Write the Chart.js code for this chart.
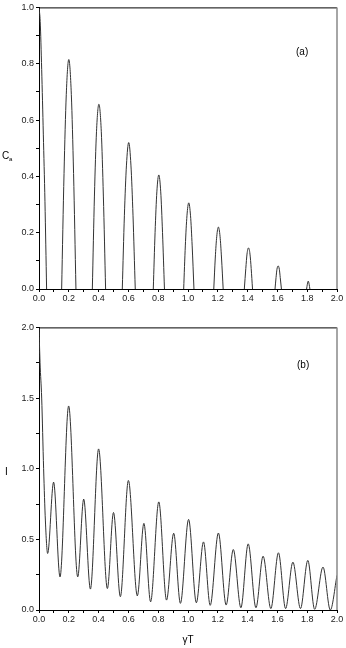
<!DOCTYPE html>
<html>
<head>
<meta charset="utf-8">
<script src="https://cdn.jsdelivr.net/npm/chart.js@4.4.1/dist/chart.umd.min.js"></script>
<style>
  body { margin: 0; background: #fff; }
  canvas { position: absolute; left: 0; }
  #chartA { top: 0; }
  #chartB { top: 320px; }
</style>
</head>
<body>
<canvas id="chartA" width="346" height="320"></canvas>
<canvas id="chartB" width="346" height="328"></canvas>
<script>
// tick labels
const xTickLabels = ['0.0', '0.2', '0.4', '0.6', '0.8', '1.0', '1.2', '1.4', '1.6', '1.8', '2.0'];
const caTickLabels = ['0.0', '0.2', '0.4', '0.6', '0.8', '1.0'];
const iTickLabels = ['0.0', '0.5', '1.0', '1.5', '2.0'];

// panel (a): C_a, arches separated by gaps (null)
const caX = [
  0, 0.008, 0.018, 0.029, 0.040, 0.051, 0.10,
  0.152, 0.168, 0.183, 0.200, 0.217, 0.232, 0.248, 0.30,
  0.358, 0.372, 0.386, 0.402, 0.418, 0.432, 0.447, 0.50,
  0.559, 0.573, 0.587, 0.602, 0.617, 0.631, 0.646, 0.70,
  0.767, 0.779, 0.791, 0.804, 0.817, 0.829, 0.842, 0.90,
  0.971, 0.982, 0.993, 1.005, 1.017, 1.028, 1.040, 1.10,
  1.173, 1.183, 1.193, 1.204, 1.215, 1.225, 1.236, 1.30,
  1.378, 1.388, 1.396, 1.406, 1.416, 1.424, 1.433, 1.50,
  1.584, 1.591, 1.597, 1.605, 1.613, 1.619, 1.627, 1.70,
  1.796, 1.801, 1.807, 1.813, 1.818
];
const caY = [
  1.0, 0.95, 0.78, 0.55, 0.31, 0, null,
  0, 0.41, 0.69, 0.815, 0.69, 0.41, 0, null,
  0, 0.33, 0.56, 0.656, 0.56, 0.33, 0, null,
  0, 0.26, 0.44, 0.52, 0.44, 0.26, 0, null,
  0, 0.20, 0.345, 0.405, 0.345, 0.20, 0, null,
  0, 0.153, 0.26, 0.306, 0.26, 0.153, 0, null,
  0, 0.11, 0.187, 0.22, 0.187, 0.11, 0, null,
  0, 0.073, 0.124, 0.146, 0.124, 0.073, 0, null,
  0, 0.041, 0.07, 0.082, 0.07, 0.041, 0, null,
  0, 0.017, 0.028, 0.017, 0
];

// panel (b): I, peaks and troughs
const iX = [
  0, 0.007, 0.018, 0.031, 0.043, 0.058, 0.098, 0.141, 0.199, 0.26,
  0.30, 0.345, 0.40, 0.459, 0.50, 0.546, 0.60, 0.66, 0.704, 0.749,
  0.804, 0.856, 0.904, 0.949, 1.004, 1.056, 1.104, 1.149, 1.204, 1.256,
  1.304, 1.355, 1.404, 1.456, 1.504, 1.556, 1.607, 1.655, 1.704, 1.755,
  1.804, 1.85, 1.906, 1.955, 2.0
];
const iY = [
  2.0, 1.75, 1.5, 1.0, 0.63, 0.40, 0.905, 0.234, 1.444, 0.234,
  0.785, 0.148, 1.14, 0.152, 0.69, 0.094, 0.917, 0.10, 0.613, 0.058,
  0.765, 0.07, 0.543, 0.047, 0.641, 0.051, 0.482, 0.033, 0.545, 0.035,
  0.428, 0.016, 0.468, 0.016, 0.381, 0.01, 0.405, 0.01, 0.339, 0.01,
  0.351, 0.005, 0.304, 0.0, 0.245
];

const tickFont = { family: 'Liberation Sans', size: 9 };

const frame = {
  id: 'frame',
  afterDraw(chart, args, opts) {
    const { ctx, chartArea: a } = chart;
    ctx.save();
    ctx.strokeStyle = '#000';
    ctx.lineWidth = 1;
    ctx.beginPath();
    ctx.moveTo(a.left, a.top + 0.5);
    ctx.lineTo(a.right, a.top + 0.5);
    ctx.stroke();
    ctx.strokeStyle = '#888';
    ctx.lineWidth = 1.5;
    ctx.beginPath();
    ctx.moveTo(a.right, a.top);
    ctx.lineTo(a.right, a.bottom);
    ctx.stroke();
    ctx.fillStyle = '#000';
    for (const t of opts.texts) {
      ctx.font = t.font;
      ctx.fillText(t.text, t.x, t.y);
    }
    ctx.restore();
  }
};

function pickLabel(list) {
  return (v) => {
    const s = Number(v).toFixed(1);
    return list.includes(s) && Math.abs(Number(s) - v) < 1e-6 ? s : '';
  };
}

function makeChart(id, xs, ys, yMax, yStep, yLabels, texts, xTitle, xHeight) {
  return new Chart(document.getElementById(id), {
    type: 'line',
    data: {
      datasets: [{
        data: xs.map((x, i) => ({ x: x, y: ys[i] })),
        borderColor: '#333',
        borderWidth: 1,
        pointRadius: 0,
        cubicInterpolationMode: 'monotone',
        spanGaps: false,
        fill: false
      }]
    },
    options: {
      responsive: false,
      animation: false,
      layout: { padding: { top: 5, right: 9, bottom: 0, left: 0 } },
      plugins: {
        legend: { display: false },
        tooltip: { enabled: false },
        frame: { texts: texts }
      },
      scales: {
        x: {
          type: 'linear',
          min: 0,
          max: 2,
          ticks: {
            stepSize: 0.1,
            autoSkip: false,
            maxRotation: 0,
            padding: 1,
            color: '#222',
            font: tickFont,
            callback: pickLabel(xTickLabels)
          },
          grid: { drawOnChartArea: false, tickLength: 3, color: '#000' },
          border: { color: '#000', width: 1 },
          title: {
            display: !!xTitle,
            text: xTitle || '',
            color: '#000',
            font: { family: 'Liberation Sans', size: 10 },
            padding: { top: 0, bottom: 2 }
          },
          afterFit: (s) => { s.height = xHeight; }
        },
        y: {
          min: 0,
          max: yMax,
          ticks: {
            stepSize: yStep,
            autoSkip: false,
            padding: 2,
            color: '#222',
            font: tickFont,
            callback: pickLabel(yLabels)
          },
          grid: { drawOnChartArea: false, tickLength: 3, color: '#000' },
          border: { color: '#000', width: 1 },
          afterFit: (s) => { s.width = 39; }
        }
      }
    },
    plugins: [frame]
  });
}

makeChart('chartA', caX, caY, 1.0, 0.1, caTickLabels, [
  { text: 'C', x: 2, y: 159, font: '10px "Liberation Sans"' },
  { text: 'a', x: 9, y: 161, font: '6px "Liberation Sans"' },
  { text: '(a)', x: 296, y: 55, font: '10px "Liberation Sans"' }
], null, 31);

makeChart('chartB', iX, iY, 2.0, 0.25, iTickLabels, [
  { text: 'I', x: 5, y: 155, font: '10px "Liberation Sans"' },
  { text: '(b)', x: 297, y: 48, font: '10px "Liberation Sans"' }
], 'γT', 38);
</script>
</body>
</html>
